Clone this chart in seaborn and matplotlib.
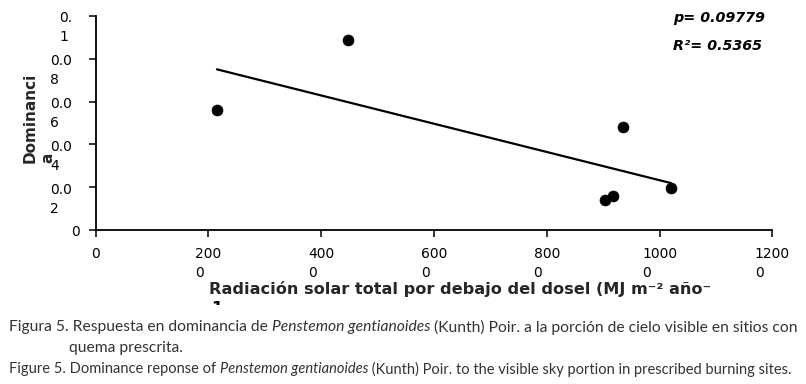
import matplotlib
matplotlib.use("Agg")
import numpy as np
import pandas as pd
import seaborn as sns
import matplotlib.pyplot as plt
from matplotlib.transforms import ScaledTranslation, Bbox

# ---------------- data ----------------
radiacion = [215, 448, 935, 903, 918, 1020]
dominancia = [0.0561, 0.0888, 0.0483, 0.0140, 0.0159, 0.0195]

x_ticks = [0, 200, 400, 600, 800, 1000, 1200]
x_tick_labels = ["0", "200\n0", "400\n0", "600\n0", "800\n0", "1000\n0", "1200\n0"]
y_ticks = [0, 0.02, 0.04, 0.06, 0.08, 0.1]
y_tick_labels = ["0", "0.0\n2", "0.0\n4", "0.0\n6", "0.0\n8", "0.\n1"]

stat_lines = ["p= 0.09779", "R\u00b2= 0.5365"]
y_label = "Dominanci\na"
x_label = "Radiación solar total por debajo del dosel (MJ m\u207b\u00b2 año\u207b"
x_label_wrap = "1"

caption_lines = [
    [("Figura 5. Respuesta en dominancia de ", "normal"), ("Penstemon gentianoides", "italic"),
     (" (Kunth) Poir. a la porción de cielo visible en sitios con", "normal")],
    [("quema prescrita.", "normal")],
    [("Figure 5. Dominance reponse of ", "normal"), ("Penstemon gentianoides", "italic"),
     (" (Kunth) Poir. to the visible sky portion in prescribed burning sites.", "normal")],
]

# ---------------- figure ----------------
W, H = 806, 384
sns.set_style("ticks")
plt.rcParams["font.family"] = ["DejaVu Sans"]

fig = plt.figure(figsize=(W / 100, H / 100), dpi=100)
fig.patch.set_facecolor("white")

ax_l, ax_r, ax_t, ax_b = 95.7, 772.3, 16.0, 230.0
ax = fig.add_axes([ax_l / W, 1 - ax_b / H, (ax_r - ax_l) / W, (ax_b - ax_t) / H])

df = pd.DataFrame({"radiacion": radiacion, "dominancia": dominancia})
sns.regplot(data=df, x="radiacion", y="dominancia", ax=ax, ci=None, color="black",
            truncate=True,
            scatter_kws=dict(s=62, alpha=1, edgecolors="black", linewidths=0.5, zorder=3),
            line_kws=dict(lw=1.6, color="black"))

ax.set_xlim(0, 1200)
ax.set_ylim(0, 0.1)
for s in ["top", "right"]:
    ax.spines[s].set_visible(False)
for s in ["left", "bottom"]:
    ax.spines[s].set_color("black")
    ax.spines[s].set_linewidth(1.3)

ax.tick_params(axis="x", direction="out", length=5, width=1.1, colors="black", pad=7, labelsize=10)
ax.tick_params(axis="y", direction="out", length=5, width=1.1, colors="black", pad=12, labelsize=10)

ax.set_xticks(x_ticks, x_tick_labels)
ax.set_yticks(y_ticks, y_tick_labels)

for lab in ax.get_xticklabels():
    lab.set_multialignment("left")
    lab.set_linespacing(1.45)
    lab.set_verticalalignment("top")
for lab in ax.get_yticklabels():
    lab.set_multialignment("left")
    lab.set_linespacing(1.45)
    if "\n" in lab.get_text():
        lab.set_transform(lab.get_transform() + ScaledTranslation(0, -0.08, fig.dpi_scale_trans))
    else:
        lab.set_transform(lab.get_transform() + ScaledTranslation(0.08, 0, fig.dpi_scale_trans))

# axis labels
ax.set_ylabel(y_label, fontsize=11, fontweight="bold", multialignment="left", linespacing=1.3)
ax.yaxis.label.set_verticalalignment("center")
ax.yaxis.set_label_coords((39 - ax_l) / (ax_r - ax_l), (ax_b - 118) / (ax_b - ax_t))

ax.set_xlabel(x_label, fontsize=11.6, fontweight="bold")
ax.xaxis.label.set_horizontalalignment("left")
ax.xaxis.label.set_verticalalignment("center")
ax.xaxis.set_label_coords((209 - ax_l) / (ax_r - ax_l), (ax_b - 289) / (ax_b - ax_t))

# wrapped remainder of the x label, cut off by the caption area as in the reference
wrap = fig.text(211 / W, 1 - 301 / H, x_label_wrap, fontsize=11.6, fontweight="bold",
                ha="left", va="top", color="black")
wrap.set_clip_box(Bbox.from_extents(200, H - 305, 260, H - 296))
wrap.set_clip_on(True)

# statistics text
for txt, ypx in zip(stat_lines, [18, 46]):
    fig.text(673 / W, 1 - ypx / H, txt, fontsize=10.3, fontweight="bold", style="italic",
             ha="left", va="center", color="black")

# ---------------- caption (rich text) ----------------
cap_family = ["Lato", "DejaVu Sans"]
cap_color = "#333333"
renderer = fig.canvas.get_renderer()


def seg_width(txt, size, style):
    a = fig.text(0, 0, "|" + txt + "|", fontsize=size, family=cap_family, style=style)
    b = fig.text(0, 0, "||", fontsize=size, family=cap_family, style=style)
    w = a.get_window_extent(renderer).width - b.get_window_extent(renderer).width
    a.remove()
    b.remove()
    return w


base = 10.0
targets = [791, None, 781]
sizes = []
for segs, tw in zip(caption_lines, targets):
    if tw is None:
        sizes.append(None)
        continue
    w0 = sum(seg_width(t, base, st) for t, st in segs)
    sizes.append(base * tw / w0)
sizes[1] = sizes[0]

for segs, size, (x0, ypx) in zip(caption_lines, sizes, [(9, 327), (69, 348), (9, 369)]):
    x = x0
    for t, st in segs:
        fig.text(x / W, 1 - ypx / H, t, fontsize=size, family=cap_family, style=st,
                 color=cap_color, ha="left", va="center")
        x += seg_width(t, size, st)

fig.savefig("out.png", dpi=100, facecolor="white")
